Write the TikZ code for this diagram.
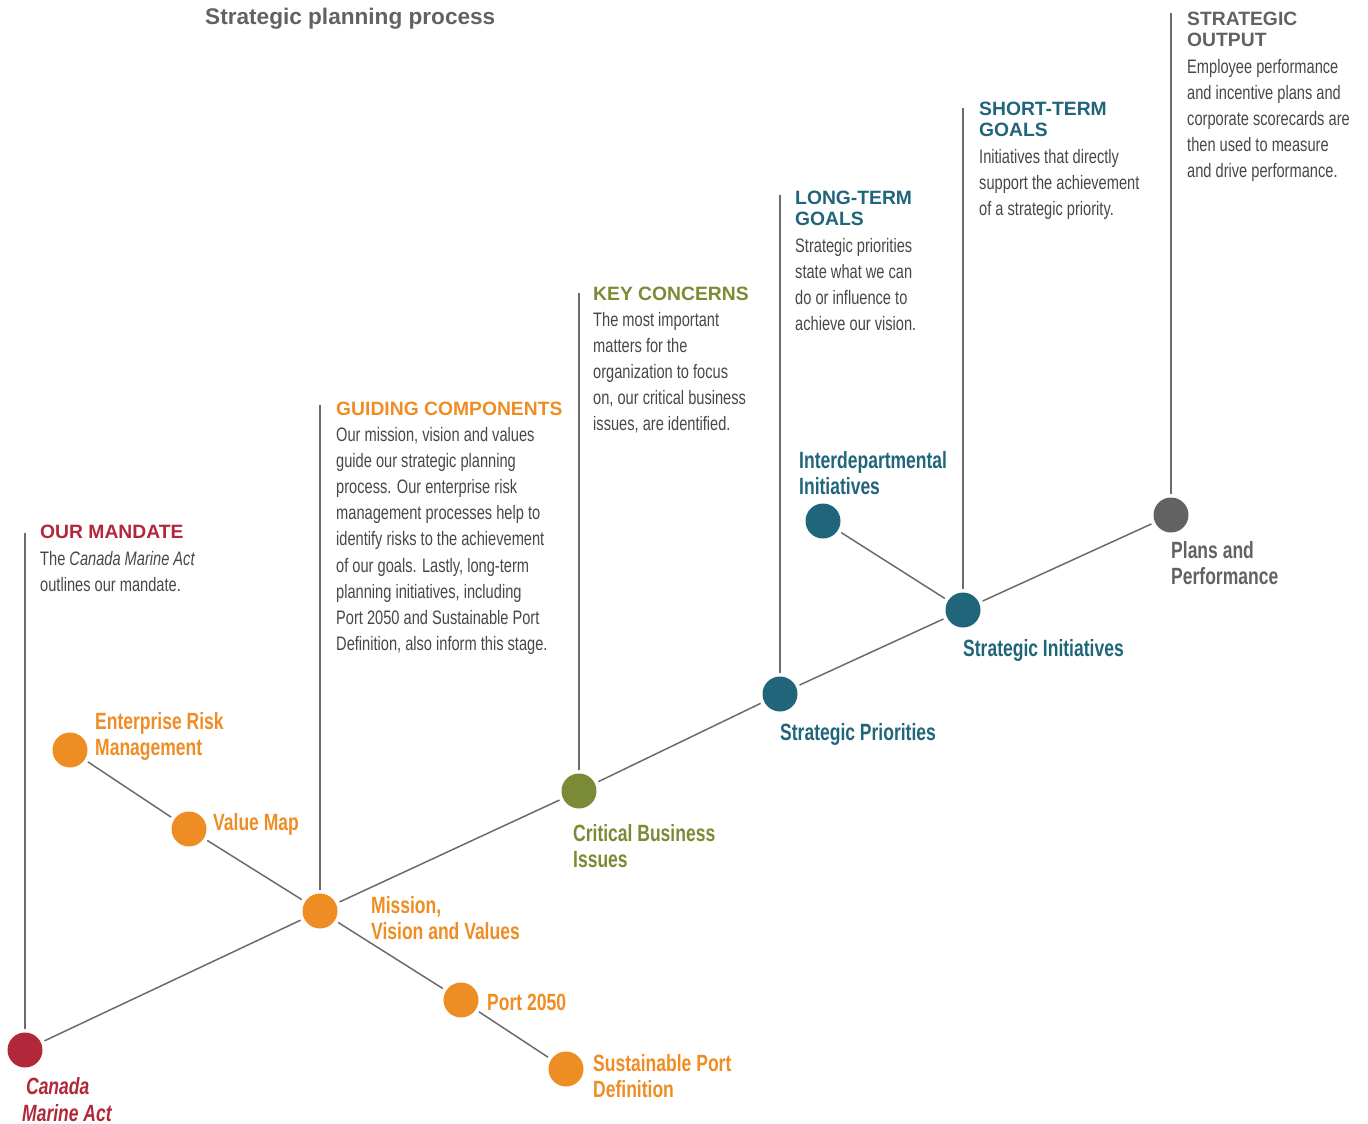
\documentclass[tikz,border=0pt]{standalone}
\usepackage{fontspec}
\setmainfont{Liberation Sans}
\newfontfamily\bodyfont[FakeStretch=0.75]{Liberation Sans}
\newfontfamily\labelfont[FakeStretch=0.745]{Liberation Sans}
\definecolor{mandred}{HTML}{B1283A}
\definecolor{guideorange}{HTML}{EE8D23}
\definecolor{keyolive}{HTML}{7B8B35}
\definecolor{goalteal}{HTML}{21657B}
\definecolor{outgray}{HTML}{626262}
\definecolor{txtgray}{HTML}{474747}
\definecolor{linegray}{HTML}{6B6B6B}

\begin{document}
\begin{tikzpicture}[x=1pt,y=-1pt,
  dot/.style={circle, minimum size=35pt, inner sep=0pt, outer sep=4pt, fill=#1},
  link/.style={draw=linegray, line width=1.5pt},
  head/.style={anchor=base west, inner sep=0pt, align=left, text=#1,
    font=\fontsize{19.3}{21}\selectfont\bfseries},
  body/.style={anchor=base west, inner sep=0pt, align=left, text=txtgray,
    font=\bodyfont\fontsize{19.5}{26.2}\selectfont},
  lbl/.style={anchor=base west, inner sep=0pt, align=left, text=#1,
    font=\labelfont\fontsize{23.5}{26.5}\selectfont\bfseries}]
\useasboundingbox (0,0) rectangle (1368,1124);

\node[anchor=base west, inner sep=0pt, text=outgray, font=\fontsize{22.6}{26}\selectfont\bfseries] (title) at (205,25) {Strategic planning process};

% dots
\node[dot=mandred] (cma) at (25,1050) {};
\node[dot=guideorange] (erm) at (70,750) {};
\node[dot=guideorange] (vmap) at (189,829) {};
\node[dot=guideorange] (mvv) at (320,911) {};
\node[dot=guideorange] (port) at (461,1000) {};
\node[dot=guideorange] (spd) at (566,1069) {};
\node[dot=keyolive] (cbi) at (579,791) {};
\node[dot=goalteal] (prio) at (780,694) {};
\node[dot=goalteal] (inter) at (823,521) {};
\node[dot=goalteal] (init) at (963,610) {};
\node[dot=outgray] (plans) at (1171,515) {};

% tops of the stage lines
\coordinate (mandate-top) at (25,533);
\coordinate (guide-top) at (320,405);
\coordinate (key-top) at (579,293);
\coordinate (long-top) at (780,195);
\coordinate (short-top) at (963,108);
\coordinate (output-top) at (1171,13);

\draw[link] (cma) -- (mvv) -- (cbi) -- (prio) -- (init) -- (plans);
\draw[link] (erm) -- (vmap) -- (mvv) -- (port) -- (spd);
\draw[link] (inter) -- (init);
\foreach \a/\b in {mandate-top/cma,guide-top/mvv,key-top/cbi,long-top/prio,short-top/init,output-top/plans}
  \draw[link] (\a) -- (\b);

% dot labels (base = last line)
\node[lbl=mandred, font=\labelfont\fontsize{23.5}{26.5}\selectfont\bfseries\itshape] (cma-lbl) at (22,1121) {\,Canada\\Marine Act};
\node[lbl=guideorange] (erm-lbl) at (95,755.5) {Enterprise Risk\\Management};
\node[lbl=guideorange] (vmap-lbl) at (213,830) {Value Map};
\node[lbl=guideorange] (mvv-lbl) at (371,939.5) {Mission,\\Vision and Values};
\node[lbl=guideorange] (port-lbl) at (487,1010) {Port 2050};
\node[lbl=guideorange] (spd-lbl) at (593,1097.5) {Sustainable Port\\Definition};
\node[lbl=keyolive] (cbi-lbl) at (573,867.5) {Critical Business\\Issues};
\node[lbl=goalteal] (prio-lbl) at (780,740) {Strategic Priorities};
\node[lbl=goalteal] (inter-lbl) at (799,494.5) {Interdepartmental\\Initiatives};
\node[lbl=goalteal] (init-lbl) at (963,656) {Strategic Initiatives};
\node[lbl=outgray] (plans-lbl) at (1171,584.5) {Plans and\\Performance};

% stage texts
\node[head=mandred] (mandate-head) at (40,538) {OUR MANDATE};
\node[body] (mandate-txt) at (40,591.2) {The \textit{Canada Marine Act}\\outlines our mandate.};

\node[head=guideorange] (guide-head) at (336,415) {GUIDING COMPONENTS};
\node[body] (guide-txt) at (336,650.6) {Our mission, vision and values\\guide our strategic planning\\process. Our enterprise risk\\management processes help to\\identify risks to the achievement\\of our goals. Lastly, long-term\\planning initiatives, including\\Port 2050 and Sustainable Port\\Definition, also inform this stage.};

\node[head=keyolive] (key-head) at (593,300) {KEY CONCERNS};
\node[body] (key-txt) at (593,430.8) {The most important\\matters for the\\organization to focus\\on, our critical business\\issues, are identified.};

\node[head=goalteal] (long-head) at (795,225) {LONG-TERM\\GOALS};
\node[body] (long-txt) at (795,330.6) {Strategic priorities\\state what we can\\do or influence to\\achieve our vision.};

\node[head=goalteal] (short-head) at (979,136) {SHORT-TERM\\GOALS};
\node[body] (short-txt) at (979,215.4) {Initiatives that directly\\support the achievement\\of a strategic priority.};

\node[head=outgray] (output-head) at (1187,47) {STRATEGIC\\OUTPUT};
\node[body] (output-txt) at (1187,177.8) {Employee performance\\and incentive plans and\\corporate scorecards are\\then used to measure\\and drive performance.};
\end{tikzpicture}
\end{document}
